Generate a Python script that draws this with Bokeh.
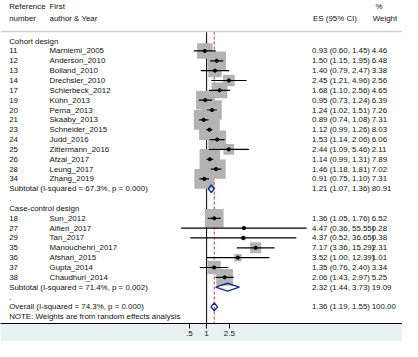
import math
from bokeh.plotting import figure
from bokeh.models import Range1d, FixedTicker, Span, ColumnDataSource
from bokeh.core.properties import value
from bokeh.embed import file_html
from bokeh.resources import INLINE

# ---------------- data ----------------
cohort_ref = ["11", "12", "13", "14", "17", "19", "20", "21", "23", "24", "25", "26", "28", "34"]
cohort_author = ["Marniemi_2005", "Anderson_2010", "Bolland_2010", "Drechsler_2010", "Schierbeck_2012",
                 "Kühn_2013", "Perna_2013", "Skaaby_2013", "Schneider_2015", "Judd_2016",
                 "Zittermann_2016", "Afzal_2017", "Leung_2017", "Zhang_2019"]
cohort_es = [0.93, 1.50, 1.40, 2.45, 1.68, 0.95, 1.24, 0.89, 1.12, 1.53, 2.44, 1.14, 1.46, 0.91]
cohort_lo = [0.60, 1.15, 0.79, 1.21, 1.10, 0.73, 1.02, 0.74, 0.99, 1.14, 1.09, 0.99, 1.18, 0.75]
cohort_hi = [1.45, 1.95, 2.47, 4.96, 2.56, 1.24, 1.51, 1.08, 1.26, 2.06, 5.46, 1.31, 1.81, 1.10]
cohort_wt = [4.46, 6.48, 3.38, 2.56, 4.65, 6.39, 7.26, 7.31, 8.03, 6.06, 2.11, 7.89, 7.02, 7.31]
cohort_sub = [1.21, 1.07, 1.36, 80.91]
cohort_label = "Subtotal  (I-squared = 67.3%, p = 0.000)"

case_ref = ["18", "27", "29", "35", "36", "37", "38"]
case_author = ["Sun_2012", "Alfieri_2017", "Tan_2017", "Manouchehri_2017", "Afshari_2015",
               "Gupta_2014", "Chaudhuri_2014"]
case_es = [1.36, 4.47, 4.37, 7.17, 3.52, 1.35, 2.06]
case_lo = [1.05, 0.36, 0.52, 3.36, 1.00, 0.76, 1.43]
case_hi = [1.76, 55.55, 36.65, 15.29, 12.39, 2.40, 2.97]
case_wt = [6.52, 0.28, 0.38, 2.31, 1.01, 3.34, 5.25]
case_sub = [2.32, 1.44, 3.73, 19.09]
case_label = "Subtotal  (I-squared = 71.4%, p = 0.002)"

overall = [1.36, 1.19, 1.55, 100.00]
overall_label = "Overall  (I-squared = 74.3%, p = 0.000)"

group_titles = ["Cohort design", "Case-control design"]
header_left = [["Reference", "number"], ["First", "author & Year"]]
header_es = "ES (95% CI)"
header_wt = ["%", "Weight"]
note_text = "NOTE: Weights are from random effects analysis"
tick_values = [0.5, 1, 2.5]
tick_labels = [".5", "1", "2.5"]

# ---------------- layout ----------------
W, H = 402, 341
RW, RH = 418.0, 357.0
SX, SY = W / RW, H / RH
X1 = 214.3      # reference px of ES = 1
PPL = 25.9      # reference px per ln unit
ROW0, ROWH = 42.5, 10.3
FRAME_BOTTOM = 338.0
FONT = value("Liberation Sans")
FS = value("7.9px")
TXT = "#111111"


def xd(px):
    return math.exp((px - X1) / PPL)


def yd(py):
    return (py - ROW0) / ROWH


COL_NUM, COL_AUTH, COL_ES, COL_WT = xd(9), xd(51), xd(324), xd(386)

# build rows
rows_study = dict(row=[], ref=[], author=[], es=[], lo=[], hi=[], wt=[])
diamonds = dict(row=[], es=[], lo=[], hi=[], wt=[], label=[])
titles = dict(row=[], text=[])
row = 0
groups = [(cohort_ref, cohort_author, cohort_es, cohort_lo, cohort_hi, cohort_wt, cohort_sub, cohort_label),
          (case_ref, case_author, case_es, case_lo, case_hi, case_wt, case_sub, case_label)]
for gi, (rf, au, es, lo, hi, wt, sub, lab) in enumerate(groups):
    titles["row"].append(row); titles["text"].append(group_titles[gi]); row += 1
    for k in range(len(rf)):
        rows_study["row"].append(row); rows_study["ref"].append(rf[k]); rows_study["author"].append(au[k])
        rows_study["es"].append(es[k]); rows_study["lo"].append(lo[k]); rows_study["hi"].append(hi[k])
        rows_study["wt"].append(wt[k])
        row += 1
    diamonds["row"].append(row); diamonds["es"].append(sub[0]); diamonds["lo"].append(sub[1])
    diamonds["hi"].append(sub[2]); diamonds["wt"].append(sub[3]); diamonds["label"].append(lab)
    row += 1
    titles["row"].append(row); titles["text"].append("."); row += 1
diamonds["row"].append(row); diamonds["es"].append(overall[0]); diamonds["lo"].append(overall[1])
diamonds["hi"].append(overall[2]); diamonds["wt"].append(overall[3]); diamonds["label"].append(overall_label)
row += 1
note_row = row

p = figure(width=W, height=H, x_axis_type="log",
           x_range=Range1d(xd(0), xd(RW)), y_range=Range1d(yd(FRAME_BOTTOM), yd(0)),
           y_axis_location=None, output_backend="svg", toolbar_location=None,
           min_border_left=0, min_border_right=0, min_border_top=0,
           min_border_bottom=H - round(FRAME_BOTTOM * SY),
           background_fill_color="white", border_fill_color="#e9f1f3",
           outline_line_color=None)
p.grid.visible = False

# separator under header
sep_row = yd(32.5)
p.add_layout(Span(location=sep_row, dimension="width", line_color="#cfcfcf", line_width=1.5))

# null line and overall line
p.segment(x0=[1], x1=[1], y0=[sep_row], y1=[yd(FRAME_BOTTOM)], line_color="black", line_width=1)
p.segment(x0=[overall[0]], x1=[overall[0]], y0=[sep_row], y1=[yd(FRAME_BOTTOM)],
          line_color="#b03a3a", line_width=1, line_dash="3 2")

src = ColumnDataSource(dict(
    row=rows_study["row"], es=rows_study["es"], lo=rows_study["lo"], hi=rows_study["hi"],
    size=[7.6 * SX * math.sqrt(w) for w in rows_study["wt"]],
    ref=rows_study["ref"], author=rows_study["author"],
    estxt=["%.2f (%.2f, %.2f)" % (e, l, h) for e, l, h in zip(rows_study["es"], rows_study["lo"], rows_study["hi"])],
    wttxt=["%.2f" % w for w in rows_study["wt"]],
))
p.scatter(x="es", y="row", size="size", marker="square", source=src,
          fill_color="#b3b3b3", line_color=None)
p.segment(x0="lo", x1="hi", y0="row", y1="row", source=src, line_color="black", line_width=1.2)
p.scatter(x="es", y="row", size=3.2, marker="circle", source=src, fill_color="black", line_color="black")

# diamonds
dx, dy = [], []
for r, e, l, h in zip(diamonds["row"], diamonds["es"], diamonds["lo"], diamonds["hi"]):
    dx.append([l, e, h, e])
    dy.append([r, r - 0.4, r, r + 0.4])
p.patches(xs=dx, ys=dy, fill_color=None, line_color="#1f2a8c", line_width=1.4)

# texts
tk = dict(text_font=FONT, text_font_size=FS, text_baseline="middle", text_align="left", text_color=TXT)
p.text(x=COL_NUM, y="row", text="ref", source=src, **tk)
p.text(x=COL_AUTH, y="row", text="author", source=src, **tk)
p.text(x=COL_ES, y="row", text="estxt", source=src, **tk)
p.text(x=COL_WT, y="row", text="wttxt", source=src, **tk)

p.text(x=[COL_NUM] * len(titles["row"]), y=titles["row"], text=titles["text"], **tk)
p.text(x=[COL_NUM] * len(diamonds["row"]), y=diamonds["row"], text=diamonds["label"], **tk)
p.text(x=[COL_ES] * len(diamonds["row"]), y=diamonds["row"],
       text=["%.2f (%.2f, %.2f)" % (e, l, h) for e, l, h in zip(diamonds["es"], diamonds["lo"], diamonds["hi"])], **tk)
p.text(x=[COL_WT] * len(diamonds["row"]), y=diamonds["row"], text=["%.2f" % w for w in diamonds["wt"]], **tk)
p.text(x=[COL_NUM], y=[note_row], text=[note_text], **tk)

# header
hy1, hy2 = yd(6.5), yd(19)
p.text(x=[COL_NUM, COL_NUM, COL_AUTH, COL_AUTH], y=[hy1, hy2, hy1, hy2],
       text=[header_left[0][0], header_left[0][1], header_left[1][0], header_left[1][1]], **tk)
p.text(x=[xd(325)], y=[hy2], text=[header_es], **tk)
p.text(x=[xd(390), xd(387)], y=[hy1, hy2], text=header_wt, **tk)

# axis
ax = p.xaxis[0]
ax.ticker = FixedTicker(ticks=tick_values)
ax.major_label_overrides = {v: t for v, t in zip(tick_values, tick_labels)}
ax.minor_tick_line_color = None
ax.axis_line_color = "black"
ax.major_tick_line_color = "black"
ax.major_tick_in = 0
ax.major_tick_out = 5
ax.major_label_standoff = 2
ax.major_label_text_font = "Liberation Sans"
ax.major_label_text_font_size = "8px"
ax.major_label_text_color = TXT

open("out.html", "w").write(file_html(p, INLINE))
